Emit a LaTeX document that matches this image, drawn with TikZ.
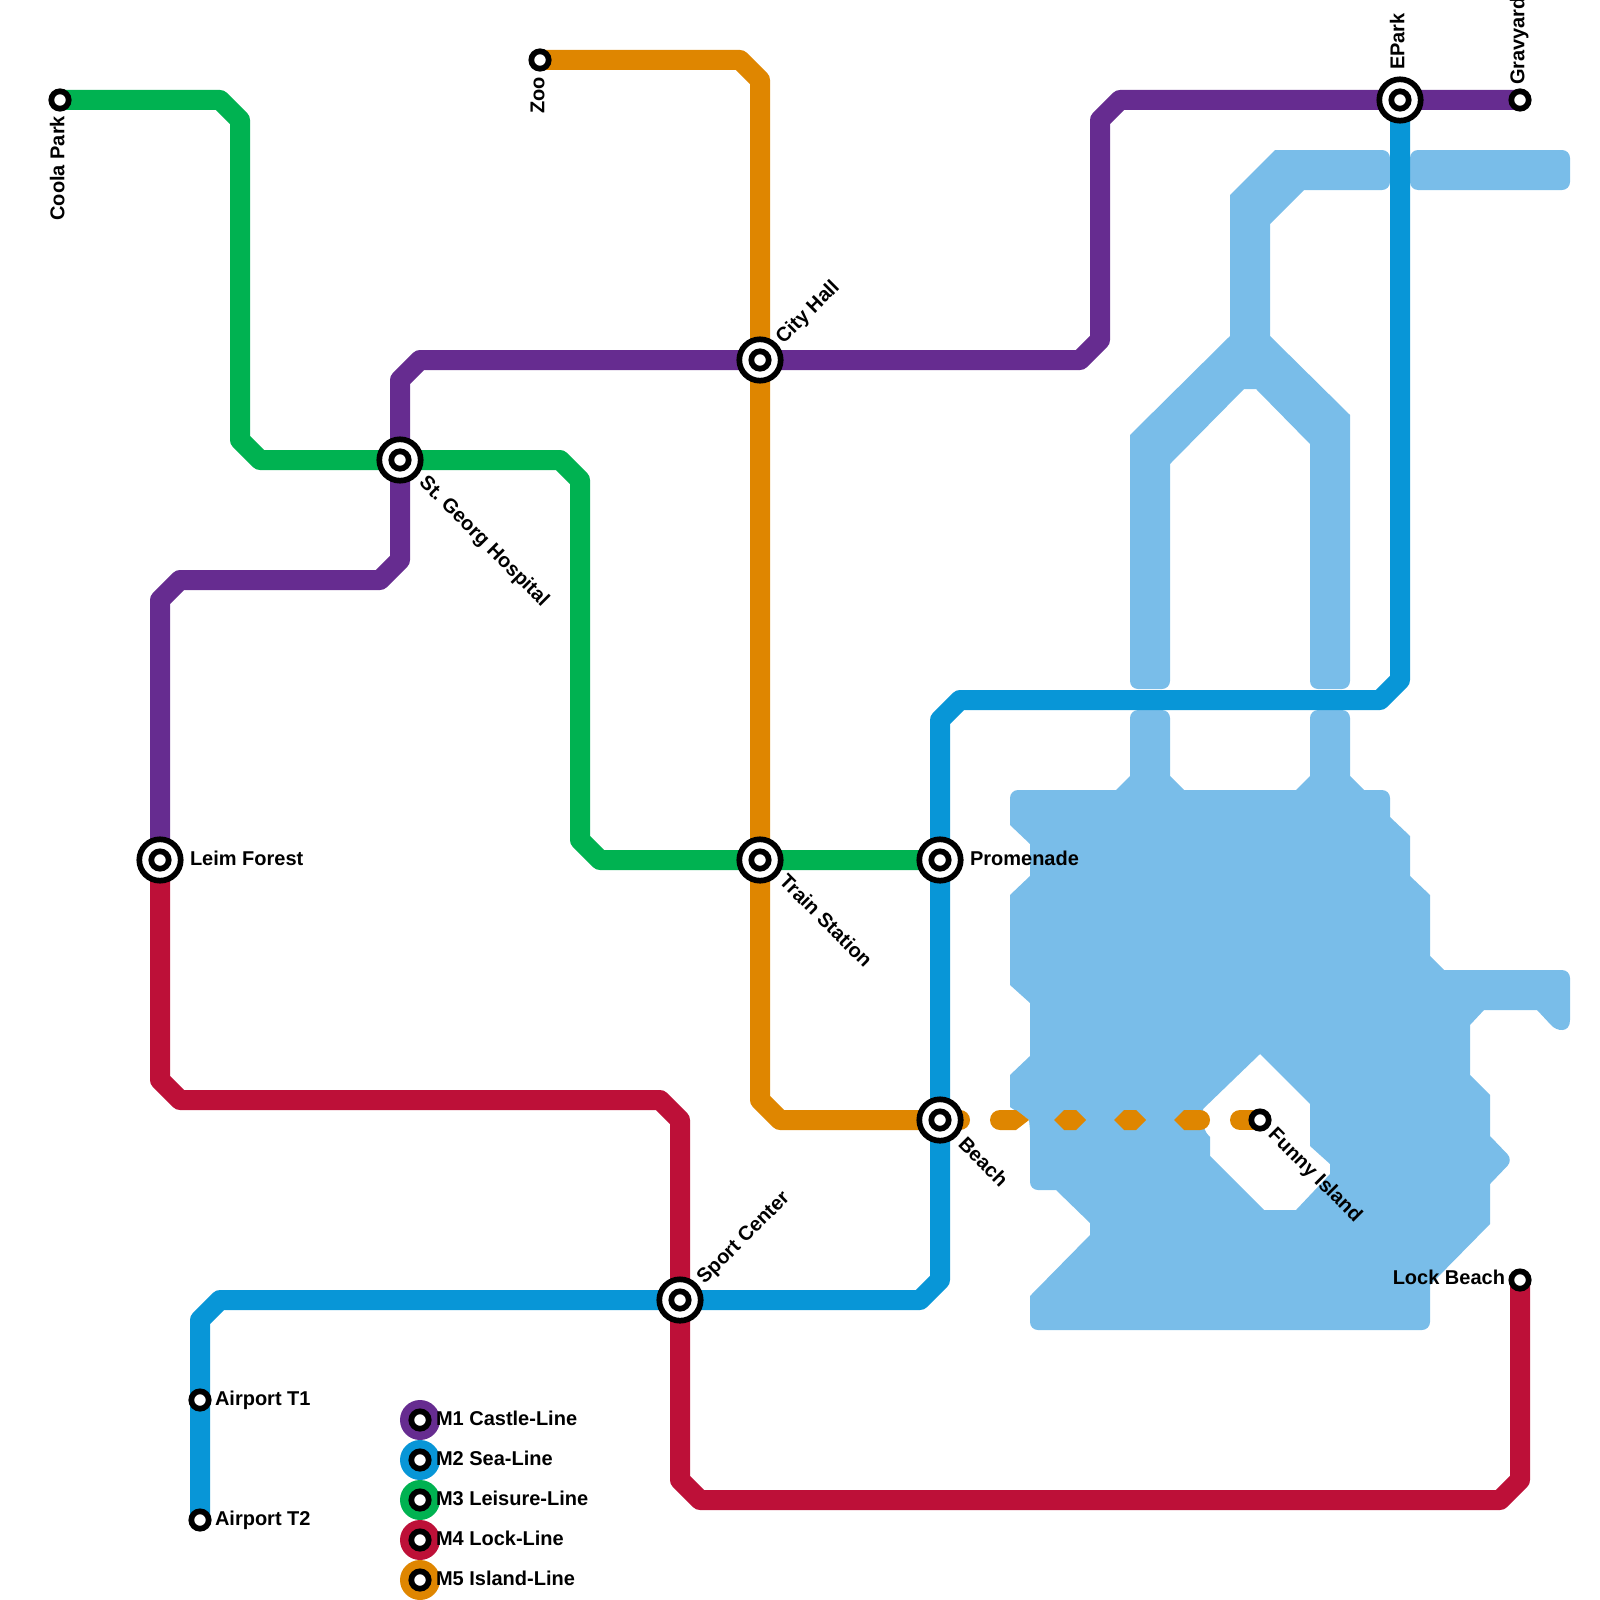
\documentclass[tikz,border=0pt]{standalone}
\usepackage{fontspec}
\setmainfont{Liberation Sans}
\usetikzlibrary{backgrounds}
\definecolor{cpurple}{HTML}{662C90}
\definecolor{cblue}{HTML}{0896D7}
\definecolor{cgreen}{HTML}{00B251}
\definecolor{cred}{HTML}{BD1038}
\definecolor{corange}{HTML}{DF8600}
\definecolor{cwater}{HTML}{79BDE9}
\tikzset{
  metro/.style={line width=10pt,line join=round,line cap=butt},
  waterfill/.style={fill=cwater,even odd rule},
  bigstn/.style={circle,draw=black,fill=white,line width=2.85pt,inner sep=0pt,outer sep=0pt,minimum size=20.7pt,
    path picture={\draw[black,line width=2.85pt] (path picture bounding box.center) circle (4.35pt);}},
  smallstn/.style={circle,draw=black,fill=white,line width=2.85pt,inner sep=0pt,outer sep=0pt,minimum size=8.7pt},
  legdot/.style={circle,inner sep=0pt,outer sep=0pt,minimum size=20pt},
  lab/.style={inner sep=0pt,outer sep=0pt,font=\fontsize{10pt}{12pt}\selectfont\bfseries,text=black},
  labw/.style={lab,anchor=mid west},
  labe/.style={lab,anchor=mid east},
  dashbit/.style={fill=corange}
}
\begin{document}
\begin{tikzpicture}[x=0.5pt,y=-0.5pt]
\useasboundingbox (0,0) rectangle (1600,1600);
% stations
\node[smallstn] (coola) at (60,100) {};
\node[smallstn] (zoo) at (540,60) {};
\node[smallstn] (grave) at (1520,100) {};
\node[smallstn] (air1) at (200,1400) {};
\node[smallstn] (air2) at (200,1520) {};
\node[smallstn] (lockb) at (1520,1280) {};
\node[smallstn] (funny) at (1260,1120) {};
\node[bigstn] (leim) at (160,860) {};
\node[bigstn] (georg) at (400,460) {};
\node[bigstn] (city) at (760,360) {};
\node[bigstn] (train) at (760,860) {};
\node[bigstn] (prom) at (940,860) {};
\node[bigstn] (beach) at (940,1120) {};
\node[bigstn] (sport) at (680,1300) {};
\node[bigstn] (epark) at (1400,100) {};
% labels
\node[labe,rotate=90] (tcoola) at (59,116) {Coola Park};
\node[labe,rotate=90] (tzoo) at (539,77) {Zoo};
\node[labw] (tleim) at (190,860) {Leim Forest};
\node[labw,rotate=-45] (tgeorg) at (422,480) {St.\ Georg Hospital};
\node[labw,rotate=45] (tcity) at (780,341) {City Hall};
\node[labw,rotate=-45] (ttrain) at (782,879) {Train Station};
\node[labw] (tprom) at (970,860) {Promenade};
\node[labw,rotate=-45] (tbeach) at (961,1142) {Beach};
\node[labw,rotate=45] (tsport) at (701,1281) {Sport Center};
\node[labw,rotate=90] (tepark) at (1399,70) {EPark};
\node[labw,rotate=90] (tgrave) at (1519,85) {Gravyard};
\node[labw,rotate=-45] (tfunny) at (1271,1132) {Funny Island};
\node[labe] (tlock) at (1505,1279) {Lock Beach};
\node[labw] (tair1) at (215,1400) {Airport T1};
\node[labw] (tair2) at (215,1520) {Airport T2};
% legend
\node[legdot,fill=cpurple] (l1) at (420,1420) {};
\node[legdot,fill=cblue] (l2) at (420,1460) {};
\node[legdot,fill=cgreen] (l3) at (420,1500) {};
\node[legdot,fill=cred] (l4) at (420,1540) {};
\node[legdot,fill=corange] (l5) at (420,1580) {};
\node[smallstn] (s1) at (l1) {};
\node[smallstn] (s2) at (l2) {};
\node[smallstn] (s3) at (l3) {};
\node[smallstn] (s4) at (l4) {};
\node[smallstn] (s5) at (l5) {};
\node[labw] (t1) at (436,1420) {M1 Castle-Line};
\node[labw] (t2) at (436,1460) {M2 Sea-Line};
\node[labw] (t3) at (436,1500) {M3 Leisure-Line};
\node[labw] (t4) at (436,1540) {M4 Lock-Line};
\node[labw] (t5) at (436,1580) {M5 Island-Line};
\begin{pgfonlayer}{background}
% water, north arms
\fill[cwater] (1130,435) -- (1230,336) -- (1230,195) -- (1275,150)
  [rounded corners=4pt] -- (1390,150) -- (1390,190) [sharp corners] -- (1304,190) -- (1270,224) -- (1270,336) -- (1350,415)
  [rounded corners=4pt] -- (1350,689) -- (1310,689) [sharp corners] -- (1310,444) -- (1256,389) -- (1244,389) -- (1170,464)
  [rounded corners=4pt] -- (1170,689) -- (1130,689) [sharp corners] -- cycle;
\fill[cwater,rounded corners=4pt] (1410,150) rectangle (1570,190);
% water, main body
\fill[waterfill] (1010,805) [rounded corners=4pt] -- (1010,790) [sharp corners] -- (1116,790) -- (1130,776)
  [rounded corners=4pt] -- (1130,710) -- (1170,710) [sharp corners] -- (1170,776) -- (1184,790) -- (1296,790) -- (1310,776)
  [rounded corners=4pt] -- (1310,710) -- (1350,710) [sharp corners] -- (1350,776) -- (1364,790)
  [rounded corners=4pt] -- (1390,790) [sharp corners] -- (1390,817) -- (1410,836) -- (1410,876) -- (1430,895) -- (1430,956) -- (1444,970)
  [rounded corners=4pt] -- (1570,970) [sharp corners] -- (1570,1020) .. controls (1570,1034) and (1556,1031) .. (1551,1025) -- (1537,1010) -- (1484,1010) -- (1470,1025) -- (1470,1075) -- (1490,1095) -- (1490,1136)
  [rounded corners=4pt] -- (1513,1160) [sharp corners] -- (1490,1184) -- (1490,1224) -- (1430,1285)
  [rounded corners=4pt] -- (1430,1330) -- (1030,1330) [sharp corners] -- (1030,1296) -- (1090,1235) -- (1090,1223) -- (1056,1190)
  [rounded corners=4pt] -- (1030,1190) [sharp corners] -- (1030,1130) -- (1029,1120) -- (1010,1107) -- (1010,1075) -- (1030,1056) -- (1030,1003) -- (1010,985) -- (1010,895) -- (1030,876) -- (1030,844) -- (1010,825) -- cycle
  (1260,1054) -- (1310,1104) -- (1310,1146) -- (1330,1164) -- (1330,1174) -- (1296,1210) -- (1264,1210) -- (1210,1156) -- (1210,1137)
  [rounded corners=4pt] -- (1203,1130) [sharp corners] -- (1203,1109) -- cycle;
% M5 dashes
\draw[corange,line width=10pt,line cap=round] (beach.center) -- ++(20,0);
\fill[dashbit] (1016,1110) -- (1000,1110) arc[start angle=90,end angle=270,radius=5pt] -- (1016,1130) -- (1029,1120) -- cycle;
\fill[dashbit] (1054,1120) -- (1064,1110) -- (1076,1110) -- (1086,1120) -- (1076,1130) -- (1064,1130) -- cycle;
\fill[dashbit] (1114,1120) -- (1124,1110) -- (1136,1110) -- (1146,1120) -- (1136,1130) -- (1124,1130) -- cycle;
\fill[dashbit] (1174,1120) -- (1184,1110) -- (1200,1110) arc[start angle=90,end angle=-90,radius=5pt] -- (1184,1130) -- cycle;
\draw[corange,line width=10pt,line cap=round] (1240,1120) -- (funny.center);
% lines
\draw[metro,corange] (zoo.center) -- (740,60) -- (760,80) -- (760,1100) -- (780,1120) -- (beach.center);
\draw[metro,cred] (leim.center) -- (160,1080) -- (180,1100) -- (660,1100) -- (680,1120) -- (680,1480) -- (700,1500) -- (1500,1500) -- (1520,1480) -- (lockb.center);
\draw[metro,cgreen] (coola.center) -- (220,100) -- (240,120) -- (240,440) -- (260,460) -- (560,460) -- (580,480) -- (580,840) -- (600,860) -- (prom.center);
\draw[metro,cblue] (air2.center) -- (200,1320) -- (220,1300) -- (920,1300) -- (940,1280) -- (940,720) -- (960,700) -- (1380,700) -- (1400,680) -- (epark.center);
\draw[metro,cpurple] (grave.center) -- (1120,100) -- (1100,120) -- (1100,340) -- (1080,360) -- (420,360) -- (400,380) -- (400,560) -- (380,580) -- (180,580) -- (160,600) -- (leim.center);
\end{pgfonlayer}
\end{tikzpicture}
\end{document}
